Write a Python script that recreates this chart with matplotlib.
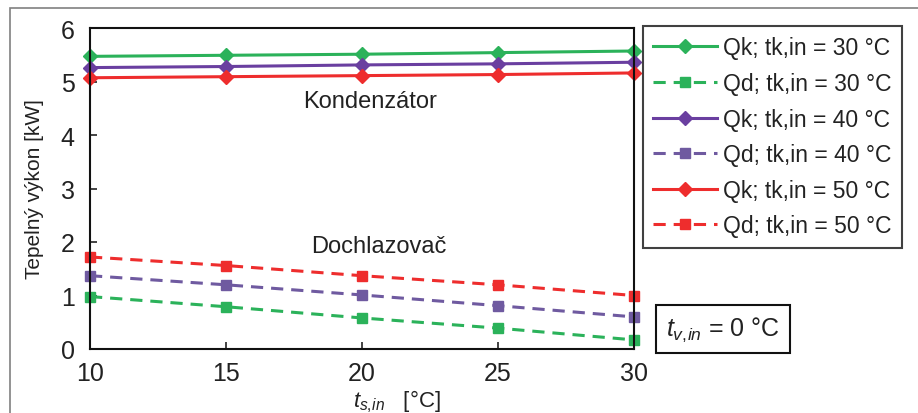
import numpy as np
import matplotlib
matplotlib.use("Agg")
import matplotlib.pyplot as plt
from matplotlib.patches import Rectangle

plt.rcParams['font.family'] = ['Liberation Sans', 'DejaVu Sans']
plt.rcParams['mathtext.fontset'] = 'custom'
plt.rcParams['mathtext.it'] = 'Liberation Sans:italic'
plt.rcParams['mathtext.rm'] = 'Liberation Sans'

# data
ts_in = [10, 15, 20, 25, 30]
qk_30 = [5.47, 5.49, 5.51, 5.54, 5.57]
qd_30 = [0.98, 0.79, 0.58, 0.39, 0.17]
qk_40 = [5.26, 5.28, 5.31, 5.33, 5.36]
qd_40 = [1.37, 1.20, 1.01, 0.81, 0.60]
qk_50 = [5.07, 5.09, 5.11, 5.13, 5.16]
qd_50 = [1.72, 1.56, 1.37, 1.20, 1.00]

green = '#2bb25a'
purple = '#6a3fa0'
purple_d = '#6f5aa0'
red = '#ee2d2d'

fig = plt.figure(figsize=(9.18, 4.14), dpi=100)
ax = fig.add_axes([90/918, 1-350/414, 544/918, 321/414])

# outer frame of the original figure (cut off right/bottom)
fig.patches.append(Rectangle((10/918, -0.1), 1.2, 1-9/414+0.1, transform=fig.transFigure,
                             fill=False, ec='#808080', lw=1.2))

series = [
    (qk_30, 'Qk; tk,in = 30 °C', green, '-', 'D'),
    (qd_30, 'Qd; tk,in = 30 °C', green, '--', 's'),
    (qk_40, 'Qk; tk,in = 40 °C', purple, '-', 'D'),
    (qd_40, 'Qd; tk,in = 40 °C', purple_d, '--', 's'),
    (qk_50, 'Qk; tk,in = 50 °C', red, '-', 'D'),
    (qd_50, 'Qd; tk,in = 50 °C', red, '--', 's'),
]
for vals, lab, col, ls, mk in series:
    l, = ax.plot(ts_in, vals, ls=ls, color=col, marker=mk, ms=7, lw=2.2, label=lab, clip_on=False)
    if ls == '--':
        l.set_dashes((4, 2.6))

ax.set_xlim(10, 30)
ax.set_ylim(0, 6)
ax.set_xticks([10, 15, 20, 25, 30])
ax.set_yticks(range(7))
ax.tick_params(direction='in', labelsize=18, length=5, width=1.2, color='#222222',
               labelcolor='#222222')
ax.tick_params(axis='y', pad=11)
ax.tick_params(axis='x', pad=9)
for s in ax.spines.values():
    s.set_linewidth(1.5)
    s.set_color('#111111')

ax.set_ylabel('Tepelný výkon [kW]', fontsize=15, color='#222222')
ax.yaxis.set_label_coords(-46/544, 0.5)
ax.set_xlabel(r'$t_{s,\!in}$   [°C]', fontsize=16, color='#222222')
ax.xaxis.set_label_coords(0.565, -39/321)

ax.text(20.3, 4.64, 'Kondenzátor', fontsize=17, ha='center', va='center', color='#222222')
ax.text(20.6, 1.93, 'Dochlazovač', fontsize=17, ha='center', va='center', color='#222222')

leg = ax.legend(loc='upper left', bbox_to_anchor=(643/918, 1-27/414), bbox_transform=fig.transFigure,
                fontsize=16.5, frameon=True, fancybox=False, edgecolor='#111111',
                handlelength=2.8, handletextpad=0.25, labelspacing=0.55, borderpad=0.45,
                borderaxespad=0)
leg.get_frame().set_linewidth(1.5)
for t in leg.get_texts():
    t.set_color('#222222')

fig.text(723/918, 1-330/414, r'$t_{v,\!in}$ = 0 °C', fontsize=18, ha='center', va='center',
         color='#222222',
         bbox=dict(boxstyle='square,pad=0.4', fc='white', ec='#111111', lw=1.5))

fig.savefig('out.png', dpi=100)
